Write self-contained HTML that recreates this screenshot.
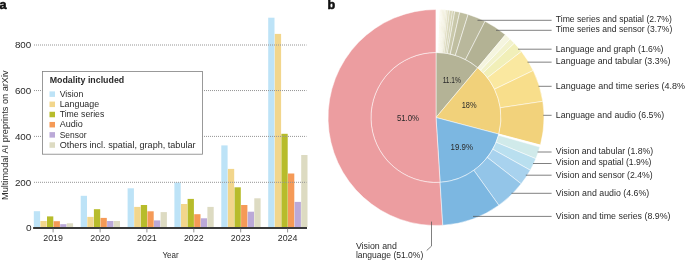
<!DOCTYPE html>
<html lang="en"><head><meta charset="utf-8"><title>Multimodal AI preprints on arXiv</title>
<style>
html,body{margin:0;padding:0;background:#fff;}
body{width:685px;height:260px;overflow:hidden;}
svg{display:block;font-family:"Liberation Sans", Arial, sans-serif;font-size:9px;fill:#2a2a2a;}
.b{font-weight:bold;}
.lead{stroke:#555;stroke-width:0.75;fill:none;}
.grid{stroke:#949494;stroke-width:1;stroke-dasharray:1 1;fill:none;}
.sep{stroke:#fff;stroke-width:0.6;fill:none;}
</style></head><body>
<svg width="685" height="260" viewBox="0 0 685 260">
<rect width="685" height="260" fill="#fff"/>

<text x="-0.6" y="8.8" class="b" font-size="12.6" fill="#111" stroke="#111" stroke-width="0.55">a</text>
<rect x="33.80" y="211.20" width="6.3" height="15.80" fill="#BDE3F7"/>
<rect x="40.40" y="221.00" width="6.3" height="6.00" fill="#F2D68C"/>
<rect x="47.00" y="216.40" width="6.3" height="10.60" fill="#B7BC2B"/>
<rect x="53.60" y="221.20" width="6.3" height="5.80" fill="#F59A57"/>
<rect x="60.20" y="224.20" width="6.3" height="2.80" fill="#BBA9D8"/>
<rect x="66.80" y="223.30" width="6.3" height="3.70" fill="#DDDBC2"/>
<rect x="80.70" y="195.80" width="6.3" height="31.20" fill="#BDE3F7"/>
<rect x="87.30" y="216.90" width="6.3" height="10.10" fill="#F2D68C"/>
<rect x="93.90" y="209.20" width="6.3" height="17.80" fill="#B7BC2B"/>
<rect x="100.50" y="217.90" width="6.3" height="9.10" fill="#F59A57"/>
<rect x="107.10" y="221.00" width="6.3" height="6.00" fill="#BBA9D8"/>
<rect x="113.70" y="221.00" width="6.3" height="6.00" fill="#DDDBC2"/>
<rect x="127.60" y="188.30" width="6.3" height="38.70" fill="#BDE3F7"/>
<rect x="134.20" y="206.90" width="6.3" height="20.10" fill="#F2D68C"/>
<rect x="140.80" y="205.00" width="6.3" height="22.00" fill="#B7BC2B"/>
<rect x="147.40" y="211.30" width="6.3" height="15.70" fill="#F59A57"/>
<rect x="154.00" y="220.40" width="6.3" height="6.60" fill="#BBA9D8"/>
<rect x="160.60" y="212.10" width="6.3" height="14.90" fill="#DDDBC2"/>
<rect x="174.40" y="182.50" width="6.3" height="44.50" fill="#BDE3F7"/>
<rect x="181.00" y="204.00" width="6.3" height="23.00" fill="#F2D68C"/>
<rect x="187.60" y="198.90" width="6.3" height="28.10" fill="#B7BC2B"/>
<rect x="194.20" y="214.20" width="6.3" height="12.80" fill="#F59A57"/>
<rect x="200.80" y="218.30" width="6.3" height="8.70" fill="#BBA9D8"/>
<rect x="207.40" y="206.90" width="6.3" height="20.10" fill="#DDDBC2"/>
<rect x="221.30" y="145.40" width="6.3" height="81.60" fill="#BDE3F7"/>
<rect x="227.90" y="168.90" width="6.3" height="58.10" fill="#F2D68C"/>
<rect x="234.50" y="187.30" width="6.3" height="39.70" fill="#B7BC2B"/>
<rect x="241.10" y="205.00" width="6.3" height="22.00" fill="#F59A57"/>
<rect x="247.70" y="211.70" width="6.3" height="15.30" fill="#BBA9D8"/>
<rect x="254.30" y="198.30" width="6.3" height="28.70" fill="#DDDBC2"/>
<rect x="268.20" y="17.70" width="6.3" height="209.30" fill="#BDE3F7"/>
<rect x="274.80" y="33.90" width="6.3" height="193.10" fill="#F2D68C"/>
<rect x="281.40" y="133.80" width="6.3" height="93.20" fill="#B7BC2B"/>
<rect x="288.00" y="173.50" width="6.3" height="53.50" fill="#F59A57"/>
<rect x="294.60" y="201.90" width="6.3" height="25.10" fill="#BBA9D8"/>
<rect x="301.20" y="155.00" width="6.3" height="72.00" fill="#DDDBC2"/>
<line class="grid" x1="34" y1="45.0" x2="306.5" y2="45.0"/>
<line class="grid" x1="34" y1="90.55" x2="306.5" y2="90.55"/>
<line class="grid" x1="34" y1="136.4" x2="306.5" y2="136.4"/>
<line class="grid" x1="34" y1="182.3" x2="306.5" y2="182.3"/>
<rect x="42.4" y="71.4" width="160.1" height="82.8" fill="#fff" stroke="#808080" stroke-width="0.8"/>
<text x="49.7" y="82.9" class="b" textLength="74.5" lengthAdjust="spacingAndGlyphs">Modality included</text>
<rect x="49.5" y="91.40" width="5.5" height="5.5" fill="#BDE3F7"/>
<text x="59.7" y="96.90" textLength="23.6" lengthAdjust="spacingAndGlyphs">Vision</text>
<rect x="49.5" y="101.58" width="5.5" height="5.5" fill="#F2D68C"/>
<text x="59.7" y="107.08" textLength="39.5" lengthAdjust="spacingAndGlyphs">Language</text>
<rect x="49.5" y="111.76" width="5.5" height="5.5" fill="#B7BC2B"/>
<text x="59.7" y="117.26" textLength="44.6" lengthAdjust="spacingAndGlyphs">Time series</text>
<rect x="49.5" y="121.94" width="5.5" height="5.5" fill="#F59A57"/>
<text x="59.7" y="127.44" textLength="23.1" lengthAdjust="spacingAndGlyphs">Audio</text>
<rect x="49.5" y="132.12" width="5.5" height="5.5" fill="#BBA9D8"/>
<text x="59.7" y="137.62" textLength="26.8" lengthAdjust="spacingAndGlyphs">Sensor</text>
<rect x="49.5" y="142.30" width="5.5" height="5.5" fill="#DDDBC2"/>
<text x="59.7" y="147.80" textLength="135.9" lengthAdjust="spacingAndGlyphs">Others incl. spatial, graph, tabular</text>
<line x1="33.1" y1="227.95" x2="307" y2="227.95" stroke="#3a3a3a" stroke-width="1.9"/>
<line x1="53.1" y1="228.4" x2="53.1" y2="232.4" stroke="#666" stroke-width="0.7"/>
<text x="53.1" y="240.8" text-anchor="middle" textLength="19.7" lengthAdjust="spacingAndGlyphs" font-size="9.5">2019</text>
<line x1="100.1" y1="228.4" x2="100.1" y2="232.4" stroke="#666" stroke-width="0.7"/>
<text x="100.1" y="240.8" text-anchor="middle" textLength="19.7" lengthAdjust="spacingAndGlyphs" font-size="9.5">2020</text>
<line x1="146.9" y1="228.4" x2="146.9" y2="232.4" stroke="#666" stroke-width="0.7"/>
<text x="146.9" y="240.8" text-anchor="middle" textLength="19.7" lengthAdjust="spacingAndGlyphs" font-size="9.5">2021</text>
<line x1="193.8" y1="228.4" x2="193.8" y2="232.4" stroke="#666" stroke-width="0.7"/>
<text x="193.8" y="240.8" text-anchor="middle" textLength="19.7" lengthAdjust="spacingAndGlyphs" font-size="9.5">2022</text>
<line x1="240.7" y1="228.4" x2="240.7" y2="232.4" stroke="#666" stroke-width="0.7"/>
<text x="240.7" y="240.8" text-anchor="middle" textLength="19.7" lengthAdjust="spacingAndGlyphs" font-size="9.5">2023</text>
<line x1="287.6" y1="228.4" x2="287.6" y2="232.4" stroke="#666" stroke-width="0.7"/>
<text x="287.6" y="240.8" text-anchor="middle" textLength="19.7" lengthAdjust="spacingAndGlyphs" font-size="9.5">2024</text>
<text x="31.3" y="48.2" text-anchor="end" textLength="16.4" lengthAdjust="spacingAndGlyphs" font-size="9.5">800</text>
<text x="31.3" y="93.75" text-anchor="end" textLength="16.4" lengthAdjust="spacingAndGlyphs" font-size="9.5">600</text>
<text x="31.3" y="139.6" text-anchor="end" textLength="16.4" lengthAdjust="spacingAndGlyphs" font-size="9.5">400</text>
<text x="31.3" y="185.5" text-anchor="end" textLength="16.4" lengthAdjust="spacingAndGlyphs" font-size="9.5">200</text>
<text x="31.5" y="230.9" text-anchor="end" textLength="5.6" lengthAdjust="spacingAndGlyphs" font-size="9.5">0</text>
<text x="170.5" y="258.3" text-anchor="middle" textLength="16.2" lengthAdjust="spacingAndGlyphs">Year</text>
<text transform="translate(8.4,200.0) rotate(-90)" textLength="129.6" lengthAdjust="spacingAndGlyphs">Multimodal AI preprints on arXiv</text>
<text x="327.6" y="8.8" class="b" font-size="12.6" fill="#111" stroke="#111" stroke-width="0.55">b</text>
<path d="M436.0,117.5L436.00,52.50A65.0,65.0 0 0 1 477.78,67.71Z" fill="#B4B396" stroke="#fff" stroke-width="0.5" stroke-linejoin="round"/>
<path d="M436.0,117.5L477.78,67.71A65.0,65.0 0 0 1 498.84,134.10Z" fill="#F1D17A" stroke="#fff" stroke-width="0.5" stroke-linejoin="round"/>
<path d="M436.0,117.5L498.84,134.10A65.0,65.0 0 0 1 440.08,182.37Z" fill="#7CB7E1" stroke="#fff" stroke-width="0.5" stroke-linejoin="round"/>
<path d="M436.0,117.5L440.08,182.37A65.0,65.0 0 1 1 436.00,52.50Z" fill="#EC9DA0" stroke="#fff" stroke-width="0.5" stroke-linejoin="round"/>
<path d="M440.08,182.37L442.78,225.29A108.0,108.0 0 1 1 436.00,9.50L436.00,52.50A65.0,65.0 0 1 0 440.08,182.37Z" fill="#EC9DA0" stroke="#fff" stroke-width="0.5" stroke-linejoin="round"/>
<path d="M436.00,52.50L436.00,9.50A108.0,108.0 0 0 1 436.94,9.50L436.57,52.50A65.0,65.0 0 0 0 436.00,52.50Z" fill="#FFFFFF" stroke="#fff" stroke-width="0.3" stroke-linejoin="round"/>
<path d="M436.57,52.50L436.94,9.50A108.0,108.0 0 0 1 437.88,9.52L437.13,52.51A65.0,65.0 0 0 0 436.57,52.50Z" fill="#FFFFFF" stroke="#fff" stroke-width="0.3" stroke-linejoin="round"/>
<path d="M437.13,52.51L437.88,9.52A108.0,108.0 0 0 1 438.83,9.54L437.70,52.52A65.0,65.0 0 0 0 437.13,52.51Z" fill="#FFFFFF" stroke="#fff" stroke-width="0.3" stroke-linejoin="round"/>
<path d="M437.70,52.52L438.83,9.54A108.0,108.0 0 0 1 439.77,9.57L438.27,52.54A65.0,65.0 0 0 0 437.70,52.52Z" fill="#FFFFFF" stroke="#fff" stroke-width="0.3" stroke-linejoin="round"/>
<path d="M438.27,52.54L439.77,9.57A108.0,108.0 0 0 1 440.90,9.61L438.95,52.57A65.0,65.0 0 0 0 438.27,52.54Z" fill="#F8F5E3" stroke="#fff" stroke-width="0.3" stroke-linejoin="round"/>
<path d="M438.95,52.57L440.90,9.61A108.0,108.0 0 0 1 442.03,9.67L439.63,52.60A65.0,65.0 0 0 0 438.95,52.57Z" fill="#F5F2DF" stroke="#fff" stroke-width="0.3" stroke-linejoin="round"/>
<path d="M439.63,52.60L442.03,9.67A108.0,108.0 0 0 1 443.35,9.75L440.42,52.65A65.0,65.0 0 0 0 439.63,52.60Z" fill="#F2EFDA" stroke="#fff" stroke-width="0.3" stroke-linejoin="round"/>
<path d="M440.42,52.65L443.35,9.75A108.0,108.0 0 0 1 444.66,9.85L441.21,52.71A65.0,65.0 0 0 0 440.42,52.65Z" fill="#EFECD5" stroke="#fff" stroke-width="0.3" stroke-linejoin="round"/>
<path d="M441.21,52.71L444.66,9.85A108.0,108.0 0 0 1 445.98,9.96L442.00,52.78A65.0,65.0 0 0 0 441.21,52.71Z" fill="#ECE9D0" stroke="#fff" stroke-width="0.3" stroke-linejoin="round"/>
<path d="M442.00,52.78L445.98,9.96A108.0,108.0 0 0 1 447.48,10.11L442.91,52.87A65.0,65.0 0 0 0 442.00,52.78Z" fill="#E7E4CB" stroke="#fff" stroke-width="0.3" stroke-linejoin="round"/>
<path d="M442.91,52.87L447.48,10.11A108.0,108.0 0 0 1 449.72,10.38L444.26,53.03A65.0,65.0 0 0 0 442.91,52.87Z" fill="#E1DEC3" stroke="#fff" stroke-width="0.3" stroke-linejoin="round"/>
<path d="M444.26,53.03L449.72,10.38A108.0,108.0 0 0 1 452.52,10.77L445.94,53.27A65.0,65.0 0 0 0 444.26,53.03Z" fill="#D8D6B9" stroke="#fff" stroke-width="0.3" stroke-linejoin="round"/>
<path d="M445.94,53.27L452.52,10.77A108.0,108.0 0 0 1 454.75,11.14L447.29,53.49A65.0,65.0 0 0 0 445.94,53.27Z" fill="#D1D0B2" stroke="#fff" stroke-width="0.3" stroke-linejoin="round"/>
<path d="M447.29,53.49L454.75,11.14A108.0,108.0 0 0 1 459.74,12.14L450.29,54.09A65.0,65.0 0 0 0 447.29,53.49Z" fill="#C9C8AA" stroke="#fff" stroke-width="0.5" stroke-linejoin="round"/>
<path d="M450.29,54.09L459.74,12.14A108.0,108.0 0 0 1 468.12,14.39L455.33,55.44A65.0,65.0 0 0 0 450.29,54.09Z" fill="#BFBEA0" stroke="#fff" stroke-width="0.5" stroke-linejoin="round"/>
<path d="M455.33,55.44L468.12,14.39A108.0,108.0 0 0 1 485.03,21.27L465.51,59.58A65.0,65.0 0 0 0 455.33,55.44Z" fill="#B9B89C" stroke="#fff" stroke-width="0.5" stroke-linejoin="round"/>
<path d="M465.51,59.58L485.03,21.27A108.0,108.0 0 0 1 505.42,34.77L477.78,67.71A65.0,65.0 0 0 0 465.51,59.58Z" fill="#B3B294" stroke="#fff" stroke-width="0.5" stroke-linejoin="round"/>
<path d="M477.78,67.71L505.42,34.77A108.0,108.0 0 0 1 510.07,38.90L480.58,70.19A65.0,65.0 0 0 0 477.78,67.71Z" fill="#F5F5DF" stroke="#fff" stroke-width="0.5" stroke-linejoin="round"/>
<path d="M480.58,70.19L510.07,38.90A108.0,108.0 0 0 1 514.34,43.16L483.15,72.76A65.0,65.0 0 0 0 480.58,70.19Z" fill="#F2F2CC" stroke="#fff" stroke-width="0.5" stroke-linejoin="round"/>
<path d="M483.15,72.76L514.34,43.16A108.0,108.0 0 0 1 521.45,51.46L487.43,77.75A65.0,65.0 0 0 0 483.15,72.76Z" fill="#F1EFB8" stroke="#fff" stroke-width="0.5" stroke-linejoin="round"/>
<path d="M487.43,77.75L521.45,51.46A108.0,108.0 0 0 1 533.23,70.50L494.52,89.21A65.0,65.0 0 0 0 487.43,77.75Z" fill="#FAE8A0" stroke="#fff" stroke-width="0.5" stroke-linejoin="round"/>
<path d="M494.52,89.21L533.23,70.50A108.0,108.0 0 0 1 542.79,101.35L500.27,107.78A65.0,65.0 0 0 0 494.52,89.21Z" fill="#F8DE8B" stroke="#fff" stroke-width="0.5" stroke-linejoin="round"/>
<path d="M500.27,107.78L542.79,101.35A108.0,108.0 0 0 1 540.42,145.09L498.84,134.10A65.0,65.0 0 0 0 500.27,107.78Z" fill="#F2D27B" stroke="#fff" stroke-width="0.5" stroke-linejoin="round"/>
<path d="M498.84,134.10L540.42,145.09A108.0,108.0 0 0 1 539.87,147.09L498.51,135.31A65.0,65.0 0 0 0 498.84,134.10Z" fill="#FFFFFF" stroke="#fff" stroke-width="0.5" stroke-linejoin="round"/>
<path d="M498.51,135.31L539.87,147.09A108.0,108.0 0 0 1 535.85,158.66L496.10,142.27A65.0,65.0 0 0 0 498.51,135.31Z" fill="#D0EAEA" stroke="#fff" stroke-width="0.5" stroke-linejoin="round"/>
<path d="M496.10,142.27L535.85,158.66A108.0,108.0 0 0 1 530.28,170.19L492.74,149.21A65.0,65.0 0 0 0 496.10,142.27Z" fill="#B9DFEF" stroke="#fff" stroke-width="0.5" stroke-linejoin="round"/>
<path d="M492.74,149.21L530.28,170.19A108.0,108.0 0 0 1 521.22,183.84L487.29,157.43A65.0,65.0 0 0 0 492.74,149.21Z" fill="#A8D2EE" stroke="#fff" stroke-width="0.5" stroke-linejoin="round"/>
<path d="M487.29,157.43L521.22,183.84A108.0,108.0 0 0 1 498.87,205.31L473.84,170.35A65.0,65.0 0 0 0 487.29,157.43Z" fill="#93C5E8" stroke="#fff" stroke-width="0.5" stroke-linejoin="round"/>
<path d="M473.84,170.35L498.87,205.31A108.0,108.0 0 0 1 442.78,225.29L440.08,182.37A65.0,65.0 0 0 0 473.84,170.35Z" fill="#7CB7E1" stroke="#fff" stroke-width="0.5" stroke-linejoin="round"/>
<text x="451.8" y="83.3" text-anchor="middle" textLength="18.3" lengthAdjust="spacingAndGlyphs">11.1%</text>
<text x="469.1" y="107.6" text-anchor="middle" textLength="14.9" lengthAdjust="spacingAndGlyphs">18%</text>
<text x="408" y="120.8" text-anchor="middle" textLength="22.2" lengthAdjust="spacingAndGlyphs">51.0%</text>
<text x="461.8" y="149.8" text-anchor="middle" textLength="22.4" lengthAdjust="spacingAndGlyphs">19.9%</text>
<line class="lead" x1="477.5" y1="20.30" x2="551.6" y2="20.30"/>
<text x="555.8" y="22.3" textLength="116.0" lengthAdjust="spacingAndGlyphs">Time series and spatial (2.7%)</text>
<line class="lead" x1="496.0" y1="30.30" x2="551.6" y2="30.30"/>
<text x="555.8" y="32.0" textLength="116.5" lengthAdjust="spacingAndGlyphs">Time series and sensor (3.7%)</text>
<line class="lead" x1="518.0" y1="49.20" x2="551.6" y2="49.20"/>
<text x="555.8" y="51.5" textLength="107.7" lengthAdjust="spacingAndGlyphs">Language and graph (1.6%)</text>
<line class="lead" x1="527.5" y1="62.15" x2="551.6" y2="62.15"/>
<text x="555.8" y="64.4" textLength="114.7" lengthAdjust="spacingAndGlyphs">Language and tabular (3.3%)</text>
<line class="lead" x1="538.5" y1="86.30" x2="551.6" y2="86.30"/>
<text x="555.8" y="88.85" textLength="132.2" lengthAdjust="spacingAndGlyphs">Language and time series (4.8%)</text>
<line class="lead" x1="543.2" y1="115.30" x2="551.6" y2="115.30"/>
<text x="555.8" y="117.8" textLength="108.4" lengthAdjust="spacingAndGlyphs">Language and audio (6.5%)</text>
<line class="lead" x1="537.6" y1="152.00" x2="551.6" y2="152.00"/>
<text x="555.8" y="153.8" textLength="97.4" lengthAdjust="spacingAndGlyphs">Vision and tabular (1.8%)</text>
<line class="lead" x1="533.0" y1="163.50" x2="551.6" y2="163.50"/>
<text x="555.8" y="165.1" textLength="95.7" lengthAdjust="spacingAndGlyphs">Vision and spatial (1.9%)</text>
<line class="lead" x1="525.8" y1="175.20" x2="551.6" y2="175.20"/>
<text x="555.8" y="177.9" textLength="96.9" lengthAdjust="spacingAndGlyphs">Vision and sensor (2.4%)</text>
<line class="lead" x1="511.5" y1="193.30" x2="551.6" y2="193.30"/>
<text x="555.8" y="195.6" textLength="93.4" lengthAdjust="spacingAndGlyphs">Vision and audio (4.6%)</text>
<line class="lead" x1="473.0" y1="216.40" x2="551.6" y2="216.40"/>
<text x="555.8" y="218.95" textLength="114.7" lengthAdjust="spacingAndGlyphs">Vision and time series (8.9%)</text>
<path class="lead" d="M431.5,221.6V246.1L426.7,250.5"/>
<text x="355.9" y="248.6" textLength="41" lengthAdjust="spacingAndGlyphs">Vision and</text>
<text x="355.9" y="257.8" textLength="67.4" lengthAdjust="spacingAndGlyphs">language (51.0%)</text>
</svg></body></html>
